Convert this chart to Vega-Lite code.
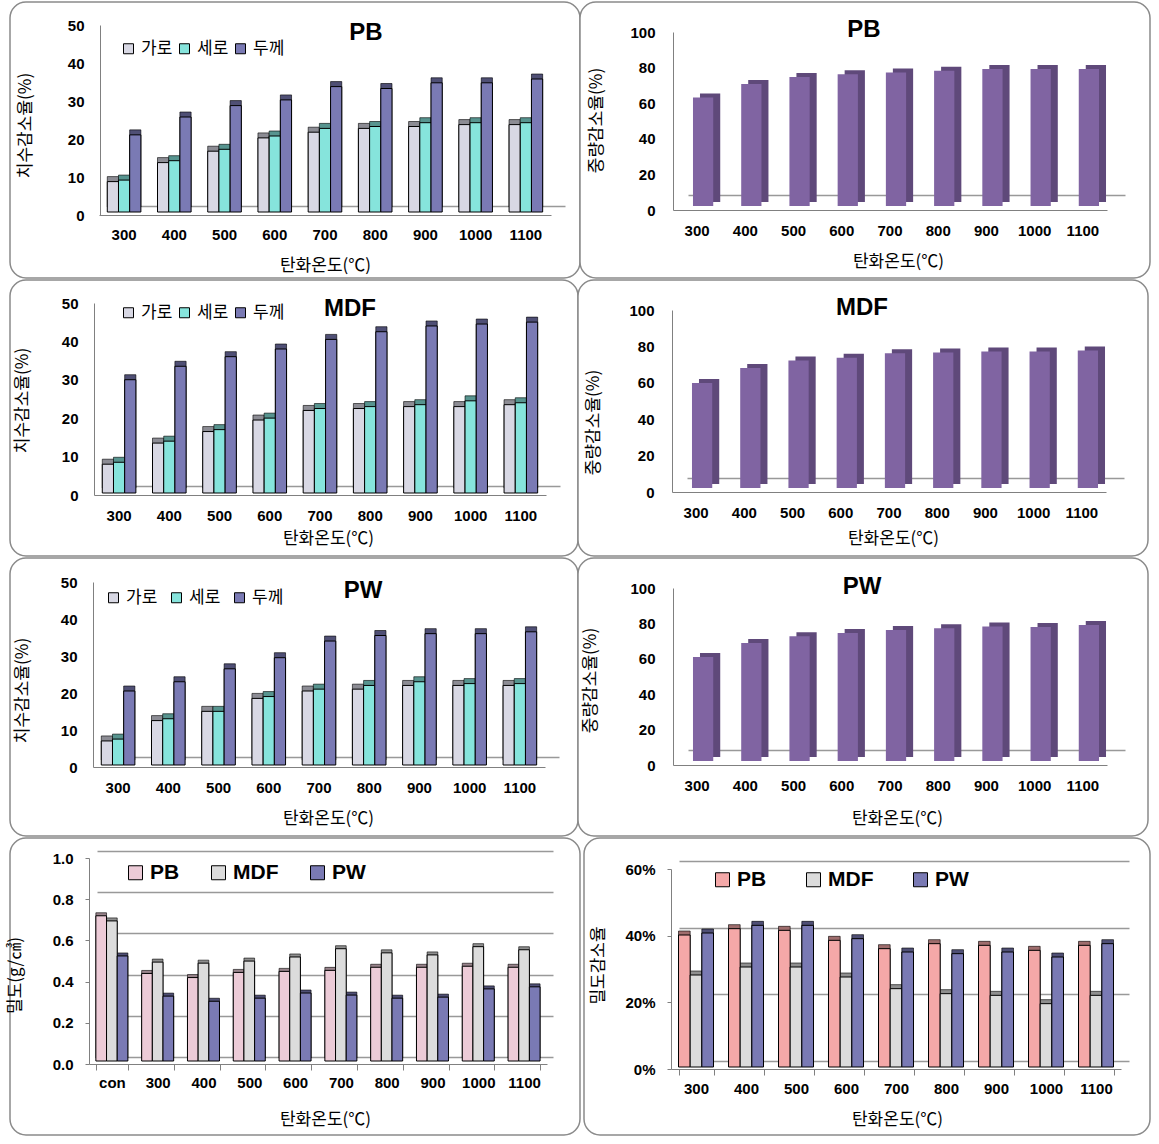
{"$schema":"https://vega.github.io/schema/vega-lite/v6.json","padding":{"left":5,"top":1,"right":0,"bottom":0},"background":"#ffffff","spacing":0,"resolve":{"scale":{"color":"independent","xOffset":"independent"}},
"config":{"view":{"stroke":"#8a8a8a","strokeWidth":1.5,"cornerRadius":16,"fill":"#ffffff"},"axis":{"labelFont":"Liberation Sans","labelFontWeight":"bold","labelFontSize":15,"labelColor":"#000000","labelAngle":0,"ticks":false,"grid":false,"domainColor":"#808080","tickColor":"#808080","titleFont":"Noto Sans CJK KR","titleFontSize":17,"titleFontWeight":"normal","titleColor":"#000000","titleBaseline":"middle"},"title":{"font":"Liberation Sans","fontWeight":"bold","fontSize":24,"color":"#000000"},"legend":{"labelFont":"Noto Sans CJK KR","labelFontSize":17,"labelColor":"#000000","symbolType":"square","symbolSize":100,"symbolStrokeColor":"#000000","symbolStrokeWidth":1,"orient":"none","direction":"horizontal","title":null,"columnPadding":3,"symbolOpacity":1}},
"datasets":{
"p1":[{"t":"300","s":"가로","v":8},{"t":"300","s":"세로","v":8.4},{"t":"300","s":"두께","v":20.3},{"t":"400","s":"가로","v":13},{"t":"400","s":"세로","v":13.5},{"t":"400","s":"두께","v":25},{"t":"500","s":"가로","v":16},{"t":"500","s":"세로","v":16.5},{"t":"500","s":"두께","v":28},{"t":"600","s":"가로","v":19.5},{"t":"600","s":"세로","v":20},{"t":"600","s":"두께","v":29.5},{"t":"700","s":"가로","v":21},{"t":"700","s":"세로","v":22},{"t":"700","s":"두께","v":33},{"t":"800","s":"가로","v":22},{"t":"800","s":"세로","v":22.5},{"t":"800","s":"두께","v":32.5},{"t":"900","s":"가로","v":22.5},{"t":"900","s":"세로","v":23.5},{"t":"900","s":"두께","v":34},{"t":"1000","s":"가로","v":23},{"t":"1000","s":"세로","v":23.5},{"t":"1000","s":"두께","v":34},{"t":"1100","s":"가로","v":23},{"t":"1100","s":"세로","v":23.5},{"t":"1100","s":"두께","v":35}],
"p3":[{"t":"300","s":"가로","v":7.5},{"t":"300","s":"세로","v":8},{"t":"300","s":"두께","v":29.5},{"t":"400","s":"가로","v":13},{"t":"400","s":"세로","v":13.5},{"t":"400","s":"두께","v":33},{"t":"500","s":"가로","v":16},{"t":"500","s":"세로","v":16.5},{"t":"500","s":"두께","v":35.5},{"t":"600","s":"가로","v":19},{"t":"600","s":"세로","v":19.5},{"t":"600","s":"두께","v":37.5},{"t":"700","s":"가로","v":21.5},{"t":"700","s":"세로","v":22},{"t":"700","s":"두께","v":40},{"t":"800","s":"가로","v":22},{"t":"800","s":"세로","v":22.5},{"t":"800","s":"두께","v":42},{"t":"900","s":"가로","v":22.5},{"t":"900","s":"세로","v":23},{"t":"900","s":"두께","v":43.5},{"t":"1000","s":"가로","v":22.5},{"t":"1000","s":"세로","v":24},{"t":"1000","s":"두께","v":44},{"t":"1100","s":"가로","v":23},{"t":"1100","s":"세로","v":23.5},{"t":"1100","s":"두께","v":44.5}],
"p5":[{"t":"300","s":"가로","v":6.5},{"t":"300","s":"세로","v":7},{"t":"300","s":"두께","v":20},{"t":"400","s":"가로","v":12},{"t":"400","s":"세로","v":12.5},{"t":"400","s":"두께","v":22.5},{"t":"500","s":"가로","v":14.5},{"t":"500","s":"세로","v":14.5},{"t":"500","s":"두께","v":26},{"t":"600","s":"가로","v":18},{"t":"600","s":"세로","v":18.5},{"t":"600","s":"두께","v":29},{"t":"700","s":"가로","v":20},{"t":"700","s":"세로","v":20.5},{"t":"700","s":"두께","v":33.5},{"t":"800","s":"가로","v":20.5},{"t":"800","s":"세로","v":21.5},{"t":"800","s":"두께","v":35},{"t":"900","s":"가로","v":21.5},{"t":"900","s":"세로","v":22.5},{"t":"900","s":"두께","v":35.5},{"t":"1000","s":"가로","v":21.5},{"t":"1000","s":"세로","v":22},{"t":"1000","s":"두께","v":35.5},{"t":"1100","s":"가로","v":21.5},{"t":"1100","s":"세로","v":22},{"t":"1100","s":"두께","v":36}],
"p2":[{"t":"300","v":61},{"t":"400","v":68.5},{"t":"500","v":72.5},{"t":"600","v":74},{"t":"700","v":75},{"t":"800","v":76},{"t":"900","v":77},{"t":"1000","v":77},{"t":"1100","v":77}],
"p4":[{"t":"300","v":57.7},{"t":"400","v":66},{"t":"500","v":70},{"t":"600","v":71.5},{"t":"700","v":74},{"t":"800","v":74.5},{"t":"900","v":75},{"t":"1000","v":75},{"t":"1100","v":75.5}],
"p6":[{"t":"300","v":58.7},{"t":"400","v":66.7},{"t":"500","v":70.5},{"t":"600","v":72.3},{"t":"700","v":74},{"t":"800","v":75},{"t":"900","v":76},{"t":"1000","v":75.7},{"t":"1100","v":76.8}],
"p7":[{"t":"con","s":"PB","v":0.705},{"t":"con","s":"MDF","v":0.68},{"t":"con","s":"PW","v":0.51},{"t":"300","s":"PB","v":0.425},{"t":"300","s":"MDF","v":0.48},{"t":"300","s":"PW","v":0.315},{"t":"400","s":"PB","v":0.405},{"t":"400","s":"MDF","v":0.475},{"t":"400","s":"PW","v":0.29},{"t":"500","s":"PB","v":0.43},{"t":"500","s":"MDF","v":0.485},{"t":"500","s":"PW","v":0.305},{"t":"600","s":"PB","v":0.435},{"t":"600","s":"MDF","v":0.505},{"t":"600","s":"PW","v":0.33},{"t":"700","s":"PB","v":0.44},{"t":"700","s":"MDF","v":0.545},{"t":"700","s":"PW","v":0.32},{"t":"800","s":"PB","v":0.455},{"t":"800","s":"MDF","v":0.525},{"t":"800","s":"PW","v":0.305},{"t":"900","s":"PB","v":0.455},{"t":"900","s":"MDF","v":0.515},{"t":"900","s":"PW","v":0.31},{"t":"1000","s":"PB","v":0.46},{"t":"1000","s":"MDF","v":0.555},{"t":"1000","s":"PW","v":0.35},{"t":"1100","s":"PB","v":0.455},{"t":"1100","s":"MDF","v":0.54},{"t":"1100","s":"PW","v":0.36}],
"p8":[{"t":"300","s":"PB","v":39.6},{"t":"300","s":"MDF","v":27.6},{"t":"300","s":"PW","v":40.2},{"t":"400","s":"PB","v":41.5},{"t":"400","s":"MDF","v":30},{"t":"400","s":"PW","v":42.5},{"t":"500","s":"PB","v":41},{"t":"500","s":"MDF","v":30},{"t":"500","s":"PW","v":42.5},{"t":"600","s":"PB","v":38},{"t":"600","s":"MDF","v":27},{"t":"600","s":"PW","v":38.5},{"t":"700","s":"PB","v":35.5},{"t":"700","s":"MDF","v":23.5},{"t":"700","s":"PW","v":34.5},{"t":"800","s":"PB","v":37},{"t":"800","s":"MDF","v":22},{"t":"800","s":"PW","v":34},{"t":"900","s":"PB","v":36.5},{"t":"900","s":"MDF","v":21.5},{"t":"900","s":"PW","v":34.5},{"t":"1000","s":"PB","v":35},{"t":"1000","s":"MDF","v":19},{"t":"1000","s":"PW","v":33},{"t":"1100","s":"PB","v":36.5},{"t":"1100","s":"MDF","v":21.5},{"t":"1100","s":"PW","v":37}]
},
"vconcat":[
{"spacing":0,"bounds":"flush","resolve":{"scale":{"color":"independent","xOffset":"independent"}},"hconcat":[
{"width":570,"height":276,"data":{"name":"p1"},"title":{"text":"PB","anchor":"start","frame":"group","dx":356,"offset":-55,"baseline":"middle","align":"center"},
"layer":[
{"mark":{"type":"rule","opacity":0},"encoding":{"x":{"field":"t","type":"nominal","scale":{"domain":["300","400","500","600","700","800","900","1000","1100"],"range":[99,555]},"axis":null},"y":{"field":"v","type":"quantitative","scale":{"domain":[0,50],"range":[204,14],"nice":false},"axis":{"orient":"left","grid":true,"values":[0],"gridColor":"#999999","gridWidth":1.5,"domain":false,"labels":false,"title":null}}}},
{"encoding":{"x":{"field":"t","type":"nominal","scale":{"domain":["300","400","500","600","700","800","900","1000","1100"],"range":[89,541],"paddingInner":0.33,"paddingOuter":0.165},"axis":{"title":"탄화온도(℃)","offset":-63,"labelPadding":12,"titleX":315,"titleY":50}},"y":{"field":"v","type":"quantitative","scale":{"domain":[0,50],"range":[213,23],"nice":false},"axis":{"orient":"left","title":"치수감소율(%)","offset":-90,"labelPadding":16,"values":[0,10,20,30,40,50],"titleX":-75,"titleY":123}},"xOffset":{"field":"s","type":"nominal","scale":{"domain":["가로","세로","두께"],"range":[0,33.6]}},"color":{"field":"s","type":"nominal","scale":{"domain":["가로","세로","두께"],"range":["#d8d8e4","#86e4dc","#7a7ab4"]},"legend":{"legendX":110,"legendY":38}}},
"layer":[{"mark":{"type":"bar","xOffset":11,"yOffset":-8,"stroke":"#000000","strokeWidth":0.6}},{"mark":{"type":"bar","xOffset":11,"yOffset":-8,"fill":"#000000","opacity":0.35}},{"mark":{"type":"bar","xOffset":6,"yOffset":-3,"stroke":"#000000","strokeWidth":1}}]}
],"resolve":{"scale":{"x":"independent","y":"independent"}}},
{"width":570,"height":276,"data":{"name":"p2"},"title":{"text":"PB","anchor":"start","frame":"group","dx":284,"offset":-52,"baseline":"middle","align":"center"},
"layer":[
{"mark":{"type":"rule","opacity":0},"encoding":{"x":{"field":"t","type":"nominal","scale":{"domain":["300","400","500","600","700","800","900","1000","1100"],"range":[108,545]},"axis":null},"y":{"field":"v","type":"quantitative","scale":{"domain":[0,100],"range":[193,15],"nice":false},"axis":{"orient":"left","grid":true,"values":[0],"gridColor":"#999999","gridWidth":1.5,"domain":false,"labels":false,"title":null}}}},
{"encoding":{"x":{"field":"t","type":"nominal","scale":{"domain":["300","400","500","600","700","800","900","1000","1100"],"range":[93,527],"paddingInner":0.58,"paddingOuter":0.29},"axis":{"title":"탄화온도(℃)","offset":-68,"labelPadding":13,"titleX":318,"titleY":51}},"y":{"field":"v","type":"quantitative","scale":{"domain":[0,100],"range":[208,30],"nice":false},"axis":{"orient":"left","title":"중량감소율(%)","offset":-93,"labelPadding":18,"values":[0,20,40,60,80,100],"titleX":-77,"titleY":118}}},
"layer":[{"mark":{"type":"bar","xOffset":13,"yOffset":-8,"fill":"#5f497a"}},{"mark":{"type":"bar","xOffset":6,"yOffset":-4,"fill":"#8064a2"}}]}
],"resolve":{"scale":{"x":"independent","y":"independent"}}}
]},
{"spacing":0,"bounds":"flush","resolve":{"scale":{"color":"independent","xOffset":"independent"}},"hconcat":[
{"width":568,"height":276,"data":{"name":"p3"},"title":{"text":"MDF","anchor":"start","frame":"group","dx":340,"offset":-53,"baseline":"middle","align":"center"},
"layer":[
{"mark":{"type":"rule","opacity":0},"encoding":{"x":{"field":"t","type":"nominal","scale":{"domain":["300","400","500","600","700","800","900","1000","1100"],"range":[94,550]},"axis":null},"y":{"field":"v","type":"quantitative","scale":{"domain":[0,50],"range":[206,14],"nice":false},"axis":{"orient":"left","grid":true,"values":[0],"gridColor":"#999999","gridWidth":1.5,"domain":false,"labels":false,"title":null}}}},
{"encoding":{"x":{"field":"t","type":"nominal","scale":{"domain":["300","400","500","600","700","800","900","1000","1100"],"range":[84,536],"paddingInner":0.33,"paddingOuter":0.165},"axis":{"title":"탄화온도(℃)","offset":-61,"labelPadding":13,"titleX":318,"titleY":43}},"y":{"field":"v","type":"quantitative","scale":{"domain":[0,50],"range":[215,23],"nice":false},"axis":{"orient":"left","title":"치수감소율(%)","offset":-84,"labelPadding":16,"values":[0,10,20,30,40,50],"titleX":-72,"titleY":120}},"xOffset":{"field":"s","type":"nominal","scale":{"domain":["가로","세로","두께"],"range":[0,33.6]}},"color":{"field":"s","type":"nominal","scale":{"domain":["가로","세로","두께"],"range":["#d8d8e4","#86e4dc","#7a7ab4"]},"legend":{"legendX":110,"legendY":24}}},
"layer":[{"mark":{"type":"bar","xOffset":13,"yOffset":-7,"stroke":"#000000","strokeWidth":0.6}},{"mark":{"type":"bar","xOffset":13,"yOffset":-7,"fill":"#000000","opacity":0.35}},{"mark":{"type":"bar","xOffset":8,"yOffset":-2,"stroke":"#000000","strokeWidth":1}}]}
],"resolve":{"scale":{"x":"independent","y":"independent"}}},
{"width":570,"height":276,"data":{"name":"p4"},"title":{"text":"MDF","anchor":"start","frame":"group","dx":284,"offset":-52,"baseline":"middle","align":"center"},
"layer":[
{"mark":{"type":"rule","opacity":0},"encoding":{"x":{"field":"t","type":"nominal","scale":{"domain":["300","400","500","600","700","800","900","1000","1100"],"range":[109,546]},"axis":null},"y":{"field":"v","type":"quantitative","scale":{"domain":[0,100],"range":[198,16],"nice":false},"axis":{"orient":"left","grid":true,"values":[0],"gridColor":"#999999","gridWidth":1.5,"domain":false,"labels":false,"title":null}}}},
{"encoding":{"x":{"field":"t","type":"nominal","scale":{"domain":["300","400","500","600","700","800","900","1000","1100"],"range":[94,528],"paddingInner":0.58,"paddingOuter":0.29},"axis":{"title":"탄화온도(℃)","offset":-64,"labelPadding":13,"titleX":315,"titleY":46}},"y":{"field":"v","type":"quantitative","scale":{"domain":[0,100],"range":[212,30],"nice":false},"axis":{"orient":"left","title":"중량감소율(%)","offset":-94,"labelPadding":18,"values":[0,20,40,60,80,100],"titleX":-79,"titleY":142}}},
"layer":[{"mark":{"type":"bar","xOffset":13,"yOffset":-8,"fill":"#5f497a"}},{"mark":{"type":"bar","xOffset":6,"yOffset":-4,"fill":"#8064a2"}}]}
],"resolve":{"scale":{"x":"independent","y":"independent"}}}
]},
{"spacing":0,"bounds":"flush","resolve":{"scale":{"color":"independent","xOffset":"independent"}},"hconcat":[
{"width":568,"height":278,"data":{"name":"p5"},"title":{"text":"PW","anchor":"start","frame":"group","dx":353,"offset":-57,"baseline":"middle","align":"center"},
"layer":[
{"mark":{"type":"rule","opacity":0},"encoding":{"x":{"field":"t","type":"nominal","scale":{"domain":["300","400","500","600","700","800","900","1000","1100"],"range":[93,549]},"axis":null},"y":{"field":"v","type":"quantitative","scale":{"domain":[0,50],"range":[199,14],"nice":false},"axis":{"orient":"left","grid":true,"values":[0],"gridColor":"#999999","gridWidth":1.5,"domain":false,"labels":false,"title":null}}}},
{"encoding":{"x":{"field":"t","type":"nominal","scale":{"domain":["300","400","500","600","700","800","900","1000","1100"],"range":[83,535],"paddingInner":0.33,"paddingOuter":0.165},"axis":{"title":"탄화온도(℃)","offset":-69,"labelPadding":13,"titleX":318,"titleY":51}},"y":{"field":"v","type":"quantitative","scale":{"domain":[0,50],"range":[209,24],"nice":false},"axis":{"orient":"left","title":"치수감소율(%)","offset":-83,"labelPadding":16,"values":[0,10,20,30,40,50],"titleX":-71,"titleY":132}},"xOffset":{"field":"s","type":"nominal","scale":{"domain":["가로","세로","두께"],"range":[0,33.6]}},"color":{"field":"s","type":"nominal","scale":{"domain":["가로","세로","두께"],"range":["#d8d8e4","#86e4dc","#7a7ab4"]},"legend":{"legendX":95,"legendY":31,"columnPadding":10}}},
"layer":[{"mark":{"type":"bar","xOffset":13,"yOffset":-7,"stroke":"#000000","strokeWidth":0.6}},{"mark":{"type":"bar","xOffset":13,"yOffset":-7,"fill":"#000000","opacity":0.35}},{"mark":{"type":"bar","xOffset":8,"yOffset":-2,"stroke":"#000000","strokeWidth":1}}]}
],"resolve":{"scale":{"x":"independent","y":"independent"}}},
{"width":570,"height":278,"data":{"name":"p6"},"title":{"text":"PW","anchor":"start","frame":"group","dx":284,"offset":-53,"baseline":"middle","align":"center"},
"layer":[
{"mark":{"type":"rule","opacity":0},"encoding":{"x":{"field":"t","type":"nominal","scale":{"domain":["300","400","500","600","700","800","900","1000","1100"],"range":[110,547]},"axis":null},"y":{"field":"v","type":"quantitative","scale":{"domain":[0,100],"range":[192,15],"nice":false},"axis":{"orient":"left","grid":true,"values":[0],"gridColor":"#999999","gridWidth":1.5,"domain":false,"labels":false,"title":null}}}},
{"encoding":{"x":{"field":"t","type":"nominal","scale":{"domain":["300","400","500","600","700","800","900","1000","1100"],"range":[95,529],"paddingInner":0.58,"paddingOuter":0.29},"axis":{"title":"탄화온도(℃)","offset":-71,"labelPadding":13,"titleX":319,"titleY":53}},"y":{"field":"v","type":"quantitative","scale":{"domain":[0,100],"range":[207,30],"nice":false},"axis":{"orient":"left","title":"중량감소율(%)","offset":-95,"labelPadding":18,"values":[0,20,40,60,80,100],"titleX":-83,"titleY":122}}},
"layer":[{"mark":{"type":"bar","xOffset":13,"yOffset":-8,"fill":"#5f497a"}},{"mark":{"type":"bar","xOffset":6,"yOffset":-4,"fill":"#8064a2"}}]}
],"resolve":{"scale":{"x":"independent","y":"independent"}}}
]},
{"spacing":4,"bounds":"flush","resolve":{"scale":{"color":"independent","xOffset":"independent"}},"hconcat":[
{"width":570,"height":297,"data":{"name":"p7"},
"layer":[
{"mark":{"type":"rule","opacity":0},"encoding":{"x":{"field":"t","type":"nominal","scale":{"domain":["con","300","400","500","600","700","800","900","1000","1100"],"range":[87,543]},"axis":null},"y":{"field":"v","type":"quantitative","scale":{"domain":[0,1],"range":[219,13],"nice":false},"axis":{"orient":"left","grid":true,"values":[0,0.2,0.4,0.6,0.8,1],"gridColor":"#999999","gridWidth":1.5,"domain":false,"labels":false,"title":null}}}},
{"encoding":{"x":{"field":"t","type":"nominal","scale":{"domain":["con","300","400","500","600","700","800","900","1000","1100"],"range":[79,537],"paddingInner":0.3,"paddingOuter":0.15},"axis":{"title":"탄화온도(℃)","offset":-71,"ticks":true,"tickSize":6,"tickBand":"extent","labelPadding":5,"titleX":315,"titleY":55}},"y":{"field":"v","type":"quantitative","scale":{"domain":[0,1],"range":[226,20],"nice":false},"axis":{"orient":"left","title":"밀도(g/㎤)","offset":-79,"ticks":true,"tickSize":4,"labelPadding":12,"values":[0,0.2,0.4,0.6,0.8,1],"format":".1f","titleX":-74,"titleY":137}},"xOffset":{"field":"s","type":"nominal","scale":{"domain":["PB","MDF","PW"],"range":[0,32]}},"color":{"field":"s","type":"nominal","scale":{"domain":["PB","MDF","PW"],"range":["#eccbd7","#dcdcdc","#7a7ab4"]},"legend":{"legendX":115,"legendY":24,"labelFont":"Liberation Sans","labelFontWeight":"bold","labelFontSize":21,"symbolSize":196,"columnPadding":28}}},
"layer":[{"mark":{"type":"bar","xOffset":9,"yOffset":-6,"stroke":"#000000","strokeWidth":0.6}},{"mark":{"type":"bar","xOffset":9,"yOffset":-6,"fill":"#000000","opacity":0.35}},{"mark":{"type":"bar","xOffset":6,"yOffset":-3,"stroke":"#000000","strokeWidth":1}}]}
],"resolve":{"scale":{"x":"independent","y":"independent"}}},
{"width":566,"height":297,"data":{"name":"p8"},
"layer":[
{"mark":{"type":"rule","opacity":0},"encoding":{"x":{"field":"t","type":"nominal","scale":{"domain":["300","400","500","600","700","800","900","1000","1100"],"range":[95,545]},"axis":null},"y":{"field":"v","type":"quantitative","scale":{"domain":[0,60],"range":[223,23],"nice":false},"axis":{"orient":"left","grid":true,"values":[0,20,40,60],"gridColor":"#999999","gridWidth":1.5,"domain":false,"labels":false,"title":null}}}},
{"encoding":{"x":{"field":"t","type":"nominal","scale":{"domain":["300","400","500","600","700","800","900","1000","1100"],"range":[87,537],"paddingInner":0.3,"paddingOuter":0.15},"axis":{"title":"탄화온도(℃)","offset":-66,"ticks":true,"tickSize":6,"tickBand":"extent","labelPadding":6,"titleX":313,"titleY":50}},"y":{"field":"v","type":"quantitative","scale":{"domain":[0,60],"range":[231,31],"nice":false},"axis":{"orient":"left","title":"밀도감소율","offset":-87,"ticks":true,"tickSize":4,"labelPadding":12,"values":[0,20,40,60],"labelExpr":"datum.value + '%'","titleX":-73,"titleY":127}},"xOffset":{"field":"s","type":"nominal","scale":{"domain":["PB","MDF","PW"],"range":[0,35]}},"color":{"field":"s","type":"nominal","scale":{"domain":["PB","MDF","PW"],"range":["#f4a8a8","#dcdcdc","#7a7ab4"]},"legend":{"legendX":128,"legendY":31,"labelFont":"Liberation Sans","labelFontWeight":"bold","labelFontSize":21,"symbolSize":196,"columnPadding":36}}},
"layer":[{"mark":{"type":"bar","xOffset":10,"yOffset":-6,"stroke":"#000000","strokeWidth":0.6}},{"mark":{"type":"bar","xOffset":10,"yOffset":-6,"fill":"#000000","opacity":0.35}},{"mark":{"type":"bar","xOffset":6,"yOffset":-2,"stroke":"#000000","strokeWidth":1}}]}
],"resolve":{"scale":{"x":"independent","y":"independent"}}}
]}
]}
